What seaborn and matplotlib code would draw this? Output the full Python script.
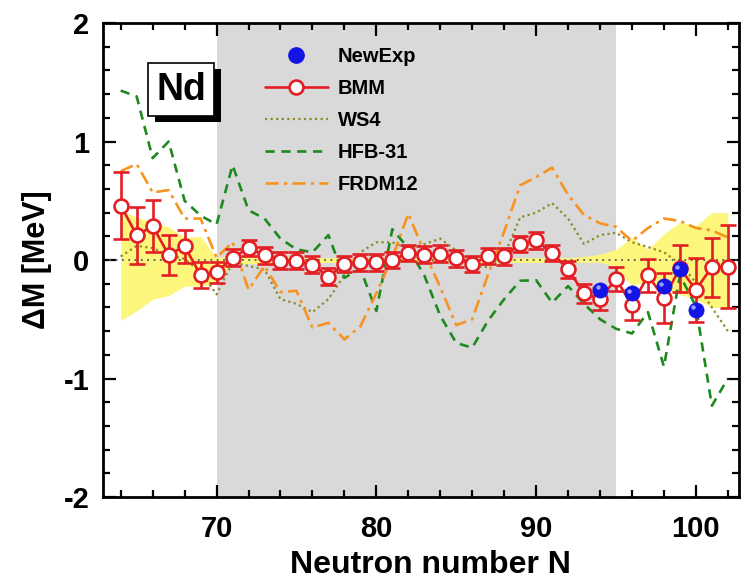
import numpy as np
import pandas as pd
import matplotlib
matplotlib.use('Agg')
import matplotlib.pyplot as plt
import matplotlib.transforms as mtransforms
import seaborn as sns
from matplotlib.lines import Line2D
from matplotlib.patches import Rectangle

# ---------------- data ----------------
N = list(range(64, 103))
bmm = [0.46, 0.21, 0.285, 0.045, 0.115, -0.127, -0.105, 0.02, 0.10, 0.04,
       -0.005, -0.005, -0.04, -0.14, -0.035, -0.02, -0.02, 0.00, 0.06, 0.045,
       0.055, 0.015, -0.035, 0.035, 0.03, 0.135, 0.165, 0.06, -0.08, -0.28,
       -0.33, -0.16, -0.38, -0.13, -0.32, -0.07, -0.25, -0.06, -0.055]
bmm_err = [0.28, 0.24, 0.22, 0.17, 0.14, 0.11, 0.09, 0.07, 0.07, 0.07,
           0.07, 0.07, 0.07, 0.07, 0.07, 0.07, 0.07, 0.07, 0.07, 0.07,
           0.07, 0.07, 0.07, 0.07, 0.07, 0.07, 0.07, 0.07, 0.07, 0.08,
           0.09, 0.10, 0.13, 0.14, 0.21, 0.20, 0.27, 0.25, 0.35]
ws4 = [0.03, 0.12, 0.10, 0.04, 0.01, -0.10, -0.29, -0.02, -0.05, -0.08,
       -0.33, -0.37, -0.44, -0.33, -0.13, 0.065, 0.15, 0.15, 0.09, 0.135,
       0.18, 0.08, -0.05, -0.06, 0.04, 0.36, 0.40, 0.48, 0.35, 0.135,
       0.21, 0.23, 0.15, 0.11, 0.065, -0.03, -0.19, -0.40, -0.60]
hfb31 = [1.43, 1.38, 0.86, 1.00, 0.50, 0.375, 0.30, 0.80, 0.42, 0.35,
         0.18, 0.09, 0.065, 0.21, -0.15, -0.075, -0.43, 0.26, 0.10, -0.13,
         -0.47, -0.70, -0.74, -0.51, -0.33, -0.175, -0.17, -0.36, -0.22, -0.37,
         -0.50, -0.58, -0.62, -0.44, -0.90, -0.13, -0.39, -1.23, -1.00]
frdm12 = [0.75, 0.81, 0.57, 0.59, 0.35, 0.35, 0.02, 0.15, -0.25, -0.05,
          -0.27, -0.26, -0.57, -0.53, -0.67, -0.56, -0.28, 0.02, 0.39, 0.07,
          -0.23, -0.55, -0.50, -0.12, 0.24, 0.63, 0.70, 0.78, 0.55, 0.38,
          0.31, 0.28, 0.16, 0.27, 0.35, 0.33, 0.27, 0.25, 0.19]
band_hi = [0.42, 0.36, 0.32, 0.28, 0.19, 0.20, 0.02, 0.04, 0.04, 0.03,
           0.03, 0.02, 0.02, 0.02, 0.02, 0.02, 0.02, 0.02, 0.02, 0.02,
           0.02, 0.02, 0.02, 0.02, 0.02, 0.02, 0.02, 0.02, 0.02, 0.03,
           0.05, 0.09, 0.19, 0.09, 0.22, 0.32, 0.29, 0.40, 0.40]
band_lo = [-0.51, -0.43, -0.33, -0.30, -0.22, -0.22, -0.20, -0.03, -0.03, -0.03,
           -0.02, -0.02, -0.02, -0.02, -0.02, -0.02, -0.02, -0.02, -0.02, -0.02,
           -0.02, -0.02, -0.02, -0.02, -0.02, -0.02, -0.02, -0.02, -0.02, -0.02,
           -0.02, -0.06, -0.22, -0.17, -0.26, -0.29, -0.33, -0.40, -0.40]
exp_N = [94, 96, 98, 99, 100]
exp_dM = [-0.25, -0.28, -0.22, -0.08, -0.42]
element = 'Nd'
xticks = [70, 80, 90, 100]
yticks = [-2, -1, 0, 1, 2]

# ---------------- style ----------------
sns.set_style('ticks')
plt.rcParams['font.family'] = ['Liberation Sans', 'DejaVu Sans']
plt.rcParams['font.weight'] = 'bold'
plt.rcParams['axes.labelweight'] = 'bold'
plt.rcParams['axes.unicode_minus'] = False
plt.rcParams['text.color'] = 'black'
plt.rcParams['axes.labelcolor'] = 'black'
plt.rcParams['xtick.color'] = 'black'
plt.rcParams['ytick.color'] = 'black'

RED = '#e31e24'
BLUE = '#1414e6'
GREEN = '#1e8a1e'
ORANGE = '#f7931e'
OLIVE = '#8a8a2b'

fig = plt.figure(figsize=(7.42, 5.83), dpi=100)
ax = fig.add_axes([0.139, 0.1475, 0.857, 0.813])

ax.axvspan(70, 95, color='#d9d9d9', lw=0, zorder=0)
ax.fill_between(N, band_lo, band_hi, color='#fcf67c', lw=0, zorder=1)
ax.axhline(0, color='#555555', ls=(0, (1, 2.5)), lw=1.3, zorder=1.5)

df = pd.DataFrame({'N': N, 'WS4': ws4, 'HFB-31': hfb31, 'FRDM12': frdm12})
ws4_ls = (0, (1, 1.5))
hfb_ls = (0, (3.5, 2.5))
frdm_ls = (0, (5, 2, 1.2, 2))
sns.lineplot(data=df, x='N', y='WS4', ax=ax, color=OLIVE, lw=1.6,
             linestyle=ws4_ls, legend=False, zorder=2)
sns.lineplot(data=df, x='N', y='HFB-31', ax=ax, color=GREEN, lw=1.9,
             linestyle=hfb_ls, legend=False, zorder=2)
sns.lineplot(data=df, x='N', y='FRDM12', ax=ax, color=ORANGE, lw=1.9,
             linestyle=frdm_ls, legend=False, zorder=2)

ax.errorbar(N, bmm, yerr=bmm_err, fmt='-o', color=RED, mfc='white', mec=RED,
            ms=10, mew=1.9, lw=1.9, elinewidth=1.9, capsize=6, capthick=1.9,
            zorder=5)
sns.scatterplot(x=exp_N, y=exp_dM, ax=ax, color=BLUE, s=120, edgecolor=BLUE,
                linewidth=0.5, zorder=6, legend=False)
hl = mtransforms.offset_copy(ax.transData, fig=fig, x=-2.5, y=2.5, units='dots')
ax.scatter(exp_N, exp_dM, s=10, color='#9aa0ff', lw=0, zorder=7, transform=hl)

ax.set_xlim(62.9, 102.7)
ax.set_ylim(-2, 2)
ax.set_xticks(xticks)
ax.set_xticks(np.arange(64, 103, 2), minor=True)
ax.set_yticks(yticks)
ax.set_yticks(np.arange(-2, 2.01, 0.2), minor=True)
ax.tick_params(which='both', direction='in', top=True, right=True, width=1.6,
               colors='black')
ax.tick_params(which='major', length=9, labelsize=21, pad=10)
ax.tick_params(axis='x', which='major', pad=13)
ax.tick_params(which='minor', length=5)
for lab in ax.get_xticklabels() + ax.get_yticklabels():
    lab.set_fontweight('bold')
for sp in ax.spines.values():
    sp.set_linewidth(2)
    sp.set_color('black')

ax.set_xlabel('Neutron number N', fontsize=23, fontweight='bold', labelpad=5,
              color='black', x=0.515)
ax.set_ylabel('ΔM [MeV]', fontsize=22, fontweight='bold', labelpad=8,
              color='black')

# element box with shadow
ax.add_patch(Rectangle((0.0822, 0.7913), 0.1033, 0.112, transform=ax.transAxes,
                       facecolor='black', edgecolor='none', zorder=7))
ax.add_patch(Rectangle((0.0712, 0.804), 0.1033, 0.112, transform=ax.transAxes,
                       facecolor='white', edgecolor='black', lw=1.2, zorder=8))
ax.text(0.1228, 0.858, element, transform=ax.transAxes, fontsize=27,
        fontweight='bold', ha='center', va='center', zorder=9, color='black')

handles = [
    Line2D([], [], ls='none', marker='o', mfc=BLUE, mec=BLUE, ms=11),
    Line2D([], [], color=RED, lw=1.9, marker='o', mfc='white', mec=RED, ms=10, mew=1.9),
    Line2D([], [], color=OLIVE, lw=1.6, ls=ws4_ls),
    Line2D([], [], color=GREEN, lw=1.9, ls=hfb_ls),
    Line2D([], [], color=ORANGE, lw=1.9, ls=frdm_ls),
]
labels = ['NewExp', 'BMM', 'WS4', 'HFB-31', 'FRDM12']
leg = ax.legend(handles, labels, loc='upper left', bbox_to_anchor=(0.242, 0.966),
                frameon=False, handlelength=3.1, handletextpad=0.5,
                labelspacing=0.64, borderaxespad=0, numpoints=1,
                prop={'size': 14.5, 'weight': 'bold'})
for t in leg.get_texts():
    t.set_color('black')

fig.savefig('out.png', dpi=100)
